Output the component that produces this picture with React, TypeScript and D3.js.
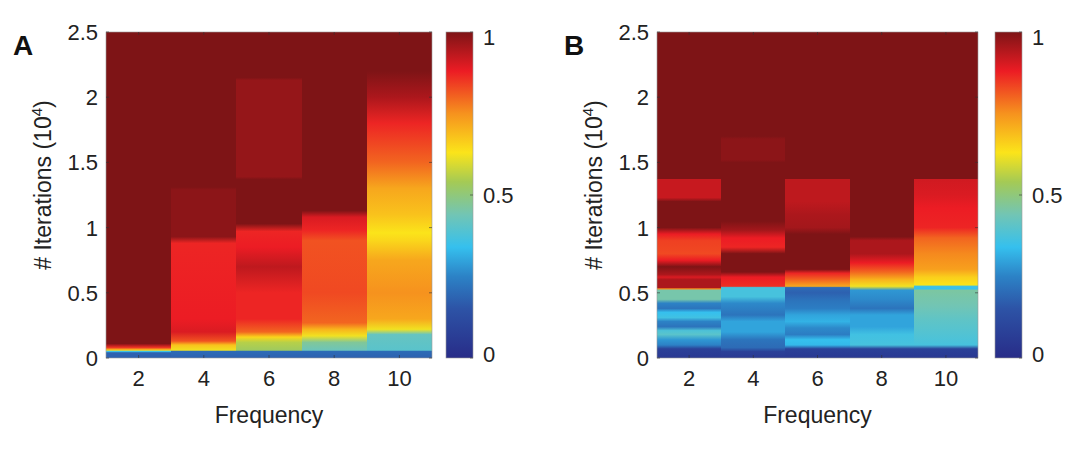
import React from "react";
import * as d3 from "d3";

const frequencies = [2, 4, 6, 8, 10];
const yTicks = [0, 0.5, 1, 1.5, 2, 2.5];
const cTicks = [0, 0.5, 1];

// colormap stops [position, color]
const cmapStops: [number, string][] = [
  [0, "#282c88"], [0.15, "#2d53a6"], [0.25, "#2c82c6"], [0.34, "#35c0ee"],
  [0.44, "#72c5b4"], [0.54, "#a4ca55"], [0.63, "#fbe41a"], [0.75, "#f6921e"],
  [0.88, "#ec1c24"], [1, "#7e1416"],
];

// each column: list of [iterations (1e4), value] stops, bottom to top
const panelA: [number, number][][] = [
  [[0, 0.18], [0.04, 0.18], [0.05, 0.35], [0.06, 0.65], [0.08, 0.85], [0.1, 0.95], [0.11, 1], [2.5, 1]],
  [[0, 0.18], [0.05, 0.2], [0.06, 0.62], [0.1, 0.68], [0.13, 0.82], [0.2, 0.9], [0.3, 0.88], [0.88, 0.87], [0.93, 0.985], [1.29, 0.985], [1.31, 1], [2.5, 1]],
  [[0, 0.18], [0.05, 0.2], [0.06, 0.53], [0.12, 0.56], [0.16, 0.65], [0.2, 0.8], [0.3, 0.87], [0.5, 0.87], [0.7, 0.93], [0.85, 0.88], [0.97, 0.87], [1.03, 1], [1.37, 1], [1.39, 0.975], [2.13, 0.975], [2.15, 1], [2.5, 1]],
  [[0, 0.18], [0.05, 0.2], [0.06, 0.43], [0.12, 0.47], [0.17, 0.62], [0.22, 0.7], [0.27, 0.8], [0.5, 0.83], [0.9, 0.82], [0.98, 0.87], [1.08, 0.9], [1.13, 1], [2.5, 1]],
  [[0, 0.18], [0.05, 0.2], [0.06, 0.4], [0.18, 0.42], [0.22, 0.62], [0.3, 0.72], [0.5, 0.75], [0.75, 0.72], [0.9, 0.65], [0.96, 0.63], [1.1, 0.68], [1.3, 0.72], [1.5, 0.8], [1.8, 0.87], [2.0, 0.95], [2.2, 1], [2.5, 1]],
];

const panelB: [number, number][][] = [
  [[0, 0.05], [0.07, 0.08], [0.1, 0.25], [0.14, 0.28], [0.18, 0.4], [0.21, 0.38], [0.24, 0.22], [0.28, 0.25], [0.31, 0.36], [0.35, 0.34], [0.38, 0.22], [0.42, 0.25], [0.45, 0.45], [0.52, 0.45], [0.53, 0.75], [0.54, 0.95], [0.6, 0.95], [0.62, 0.9], [0.64, 0.95], [0.7, 1], [0.75, 0.88], [0.8, 0.83], [0.9, 0.84], [0.95, 0.88], [1.0, 1], [1.2, 1], [1.23, 0.92], [1.37, 0.92], [1.37, 1], [2.5, 1]],
  [[0, 0.05], [0.05, 0.08], [0.08, 0.2], [0.14, 0.22], [0.2, 0.3], [0.28, 0.3], [0.33, 0.22], [0.42, 0.26], [0.47, 0.37], [0.54, 0.37], [0.55, 0.86], [0.62, 0.88], [0.66, 1], [0.8, 1], [0.85, 0.87], [0.92, 0.88], [0.98, 0.96], [1.05, 1], [1.5, 1], [1.52, 0.985], [1.68, 0.985], [1.7, 1], [2.5, 1]],
  [[0, 0.05], [0.07, 0.08], [0.1, 0.33], [0.14, 0.34], [0.18, 0.24], [0.23, 0.26], [0.28, 0.32], [0.33, 0.3], [0.38, 0.24], [0.44, 0.22], [0.5, 0.18], [0.54, 0.2], [0.55, 0.72], [0.6, 0.8], [0.65, 0.87], [0.68, 1], [0.95, 1], [1.0, 0.96], [1.1, 0.95], [1.2, 0.93], [1.37, 0.93], [1.37, 1], [2.5, 1]],
  [[0, 0.05], [0.07, 0.08], [0.1, 0.37], [0.18, 0.36], [0.24, 0.3], [0.33, 0.3], [0.38, 0.22], [0.45, 0.26], [0.52, 0.28], [0.55, 0.62], [0.6, 0.7], [0.66, 0.8], [0.73, 0.88], [0.8, 0.95], [0.9, 0.95], [0.93, 1], [2.5, 1]],
  [[0, 0.05], [0.07, 0.08], [0.1, 0.37], [0.2, 0.39], [0.3, 0.41], [0.4, 0.44], [0.52, 0.46], [0.53, 0.34], [0.55, 0.36], [0.56, 0.63], [0.62, 0.66], [0.68, 0.73], [0.8, 0.76], [0.92, 0.8], [1.0, 0.87], [1.15, 0.88], [1.25, 0.9], [1.37, 0.91], [1.37, 1], [2.5, 1]],
];

const cmap = d3.scaleLinear<string>()
  .domain(cmapStops.map(s => s[0]))
  .range(cmapStops.map(s => s[1]))
  .interpolate(d3.interpolateRgb);

const FONT = "Liberation Sans, Arial, sans-serif";
const TXT = "#222";
const top = 32, bottom = 358;

function Panel({ id, label, data, x0, x1, cbx }: { id: string; label: string; data: [number, number][][]; x0: number; x1: number; cbx: number }) {
  const y = d3.scaleLinear().domain([0, 2.5]).range([bottom, top]);
  const x = d3.scaleBand<number>().domain(frequencies).range([x0, x1]).padding(0);
  const cy = d3.scaleLinear().domain([0, 1]).range([bottom, top]);
  const cbw = 27;
  return (
    <g>
      <defs>
        {data.map((col, i) => (
          <linearGradient key={i} id={`${id}g${i}`} x1="0" y1="1" x2="0" y2="0">
            {col.map(([it, v], j) => (
              <stop key={j} offset={it / 2.5} stopColor={cmap(v)} />
            ))}
          </linearGradient>
        ))}
        <linearGradient id={`${id}cb`} x1="0" y1="1" x2="0" y2="0">
          {cmapStops.map(([p, c], j) => <stop key={j} offset={p} stopColor={c} />)}
        </linearGradient>
      </defs>
      {data.map((_, i) => {
        const xa = Math.round(x(frequencies[i])!);
        const xb = i === data.length - 1 ? x1 : Math.round(x(frequencies[i + 1])!) + 1;
        return <rect key={i} x={xa} y={top} width={xb - xa} height={bottom - top} fill={`url(#${id}g${i})`} shapeRendering="crispEdges" />;
      })}
      <rect x={x0} y={top} width={x1 - x0} height={bottom - top} fill="none" stroke="#999" strokeWidth={0.6} />
      {frequencies.map(f => {
        const cx = x(f)! + x.bandwidth() / 2;
        return (
          <g key={f}>
            <line x1={cx} x2={cx} y1={bottom} y2={bottom - 3} stroke="#333" strokeWidth={0.6} />
            <line x1={cx} x2={cx} y1={top} y2={top + 3} stroke="#333" strokeWidth={0.6} />
            <text x={cx} y={bottom + 28} textAnchor="middle" fontSize={22} fill={TXT} fontFamily={FONT}>{f}</text>
          </g>
        );
      })}
      {yTicks.map(t => (
        <g key={t}>
          <line x1={x0} x2={x0 + 3} y1={y(t)} y2={y(t)} stroke="#333" strokeWidth={0.6} />
          <line x1={x1} x2={x1 - 3} y1={y(t)} y2={y(t)} stroke="#333" strokeWidth={0.6} />
          <text x={x0 - 8} y={y(t) + 8} textAnchor="end" fontSize={22} fill={TXT} fontFamily={FONT}>{t}</text>
        </g>
      ))}
      <text x={(x0 + x1) / 2} y={423} textAnchor="middle" fontSize={23} fill={TXT} fontFamily={FONT}>Frequency</text>
      <text transform={`translate(${x0 - 55},${(top + bottom) / 2 - 10}) rotate(-90)`} textAnchor="middle" fontSize={23} fill={TXT} fontFamily={FONT}>
        # Iterations (10<tspan dy={-9} fontSize={15}>4</tspan><tspan dy={9}>)</tspan>
      </text>
      <text x={x0 - 93} y={55} fontSize={28} fontWeight="bold" fill="#111" fontFamily={FONT}>{label}</text>
      <rect x={cbx} y={top} width={cbw} height={bottom - top} fill={`url(#${id}cb)`} stroke="#999" strokeWidth={0.6} />
      {cTicks.map(t => (
        <g key={t}>
          <line x1={cbx + cbw} x2={cbx + cbw - 3} y1={cy(t)} y2={cy(t)} stroke="#333" strokeWidth={0.6} />
          <text x={cbx + cbw + 10} y={cy(t) + (t === 1 ? 13 : t === 0 ? 4 : 8)} fontSize={22} fill={TXT} fontFamily={FONT}>{t}</text>
        </g>
      ))}
    </g>
  );
}

export default function App() {
  return (
    <svg width={1080} height={452} style={{ position: "absolute", left: 0, top: 0, background: "#fff" }}>
      <Panel id="A" label="A" data={panelA} x0={106} x1={432} cbx={446} />
      <Panel id="B" label="B" data={panelB} x0={657} x1={978} cbx={995} />
    </svg>
  );
}
